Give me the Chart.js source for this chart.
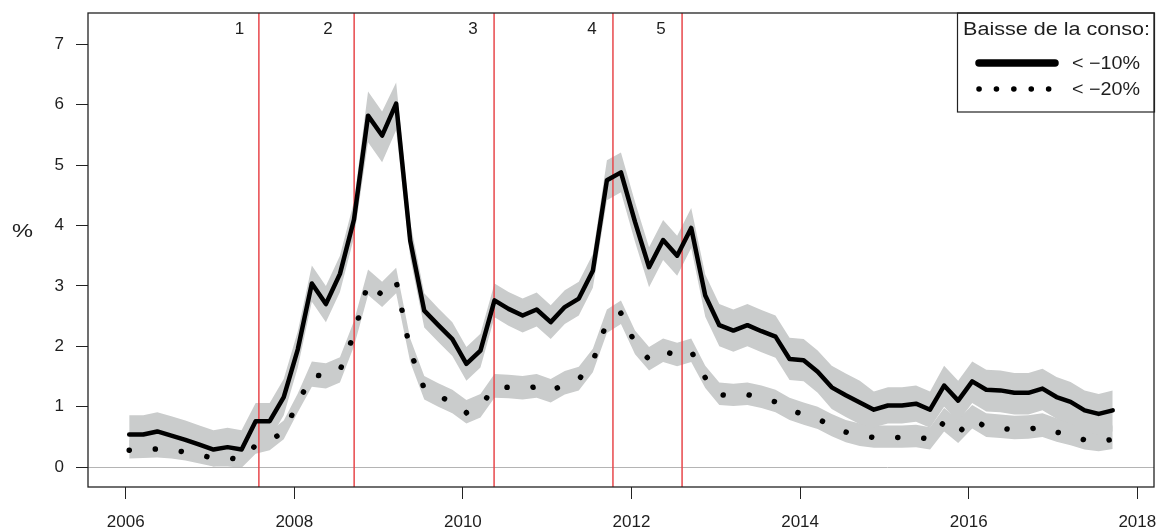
<!DOCTYPE html>
<html><head><meta charset="utf-8">
<script src="https://cdn.jsdelivr.net/npm/chart.js@4.4.0/dist/chart.umd.min.js"></script>
<style>html,body{margin:0;padding:0;background:#fff}#wrap{width:1166px;height:531px}</style>
</head><body><div id="wrap"><canvas id="c" width="1166" height="531"></canvas></div>
<script>
// ---- data ----
const dates = [
'2006-01','2006-03','2006-05','2006-07','2006-09','2006-11',
'2007-01','2007-03','2007-05','2007-07','2007-09','2007-11',
'2008-01','2008-03','2008-05','2008-07','2008-09','2008-11',
'2009-01','2009-03','2009-05','2009-07','2009-09','2009-11',
'2010-01','2010-03','2010-05','2010-07','2010-09','2010-11',
'2011-01','2011-03','2011-05','2011-07','2011-09','2011-11',
'2012-01','2012-03','2012-05','2012-07','2012-09','2012-11',
'2013-01','2013-03','2013-05','2013-07','2013-09','2013-11',
'2014-01','2014-03','2014-05','2014-07','2014-09','2014-11',
'2015-01','2015-03','2015-05','2015-07','2015-09','2015-11',
'2016-01','2016-03','2016-05','2016-07','2016-09','2016-11',
'2017-01','2017-03','2017-05','2017-07','2017-09'];
const conso10 = [0.54,0.54,0.59,0.52,0.45,0.37,0.29,0.33,0.29,0.76,0.76,1.16,1.95,3.04,2.70,3.20,4.10,5.82,5.49,6.02,
3.75,2.59,2.35,2.12,1.71,1.93,2.76,2.62,2.51,2.61,2.40,2.65,2.79,3.25,4.75,4.88,4.06,3.31,3.76,3.50,
3.96,2.84,2.35,2.26,2.35,2.25,2.16,1.79,1.77,1.58,1.32,1.19,1.07,0.95,1.02,1.02,1.05,0.95,1.35,1.10,
1.42,1.28,1.27,1.23,1.23,1.30,1.16,1.08,0.94,0.88,0.94];
const conso10Hi = [0.86,0.86,0.91,0.84,0.77,0.69,0.61,0.65,0.61,1.06,1.06,1.46,2.25,3.34,3.00,3.50,4.40,6.22,5.89,6.37,
4.05,2.88,2.63,2.40,1.99,2.21,3.04,2.90,2.79,2.89,2.68,2.93,3.07,3.53,5.08,5.21,4.39,3.64,4.09,3.83,
4.29,3.19,2.70,2.61,2.70,2.60,2.51,2.14,2.12,1.93,1.68,1.55,1.43,1.25,1.32,1.32,1.35,1.25,1.68,1.43,
1.75,1.61,1.60,1.56,1.56,1.63,1.49,1.41,1.27,1.21,1.27];
const conso10Lo = [0.26,0.26,0.31,0.24,0.17,0.09,0.01,0.05,0.01,0.46,0.46,0.86,1.65,2.74,2.40,2.90,3.80,5.38,5.05,5.58,
3.47,2.31,2.07,1.84,1.43,1.65,2.48,2.34,2.23,2.33,2.12,2.37,2.51,2.97,4.42,4.55,3.73,2.98,3.43,3.17,
3.63,2.49,2.00,1.91,2.00,1.90,1.81,1.44,1.42,1.23,0.96,0.83,0.71,0.66,0.72,0.72,0.75,0.65,1.00,0.75,
1.06,0.92,0.91,0.87,0.87,0.94,0.80,0.72,0.59,0.53,0.59];
const conso20 = [0.28,0.29,0.30,0.28,0.25,0.20,0.15,0.15,0.13,0.36,0.42,0.60,1.05,1.53,1.50,1.60,2.20,3.05,2.85,3.08,
1.92,1.30,1.18,1.07,0.90,1.00,1.33,1.32,1.30,1.33,1.25,1.38,1.45,1.75,2.40,2.55,2.05,1.78,1.92,1.85,
1.92,1.48,1.20,1.18,1.20,1.15,1.08,0.95,0.87,0.80,0.68,0.58,0.52,0.49,0.49,0.49,0.50,0.46,0.75,0.56,
0.80,0.66,0.64,0.62,0.63,0.66,0.58,0.52,0.45,0.42,0.46];
const conso20Hi = [0.45,0.46,0.47,0.45,0.42,0.37,0.32,0.32,0.30,0.53,0.59,0.77,1.22,1.75,1.72,1.82,2.42,3.27,3.07,3.30,
2.13,1.51,1.39,1.28,1.11,1.21,1.54,1.53,1.51,1.54,1.46,1.59,1.66,1.96,2.61,2.76,2.26,1.99,2.13,2.06,
2.13,1.68,1.40,1.38,1.40,1.35,1.28,1.15,1.07,1.00,0.88,0.78,0.72,0.69,0.69,0.69,0.70,0.66,0.98,0.79,
1.03,0.89,0.87,0.85,0.86,0.89,0.81,0.75,0.68,0.65,0.69];
const conso20Lo = [0.14,0.15,0.16,0.14,0.11,0.06,0.01,0.01,-0.01,0.22,0.28,0.46,0.91,1.33,1.30,1.40,2.00,2.85,2.65,2.88,
1.74,1.12,1.00,0.89,0.72,0.82,1.15,1.14,1.12,1.15,1.07,1.20,1.27,1.57,2.22,2.37,1.87,1.60,1.74,1.67,
1.74,1.31,1.03,1.01,1.03,0.98,0.91,0.78,0.70,0.63,0.51,0.41,0.35,0.32,0.32,0.32,0.33,0.29,0.59,0.40,
0.64,0.50,0.48,0.46,0.47,0.50,0.42,0.36,0.29,0.26,0.30];
const xTicks = [2006,2008,2010,2012,2014,2016,2018];
const yTicks = [0,1,2,3,4,5,6,7];
const breakDates = [2007.58,2008.71,2010.37,2011.78,2012.60];
const breakLabels = ['1','2','3','4','5'];
const breakLabelDates = [2007.35,2008.40,2010.12,2011.53,2012.35];
const yTitle = '%';
const legendTitle = 'Baisse de la conso:';
const legendLabels = ['< \u221210%','< \u221220%'];

// ---- helpers ----
const xs = dates.map(d => { const [y,m] = d.split('-').map(Number); return y + (m - 0.5) / 12; });
const pts = arr => arr.map((v,i) => ({x: xs[i], y: v}));
const FONT = '"Liberation Sans", Arial, sans-serif';
const TXT = '#1e1e1e';
const BAND = 'rgb(202,204,204)';

function wideText(ctx, text, x, y, width) {
  const w = ctx.measureText(text).width;
  ctx.save(); ctx.translate(x, y); ctx.scale(width / w, 1);
  ctx.textAlign = 'left'; ctx.fillText(text, 0, 0); ctx.restore();
}

const deco = {
  id: 'deco',
  afterDatasetDraw(chart, args) {
    if (args.index !== 2) return;
    const {ctx, chartArea: a, scales: {x, y}} = chart;
    ctx.save();
    ctx.strokeStyle = '#b4b4b4'; ctx.lineWidth = 1;
    const y0 = Math.round(y.getPixelForValue(0)) + 0.5;
    ctx.beginPath(); ctx.moveTo(a.left, y0); ctx.lineTo(a.right, y0); ctx.stroke();
    ctx.strokeStyle = '#e8474b'; ctx.lineWidth = 1.5;
    breakDates.forEach(d => {
      const px = x.getPixelForValue(d);
      ctx.beginPath(); ctx.moveTo(px, a.top); ctx.lineTo(px, a.bottom); ctx.stroke();
    });
    ctx.restore();
  },
  afterDraw(chart) {
    const {ctx, chartArea: a, scales: {x, y}} = chart;
    ctx.save();
    ctx.fillStyle = TXT;
    ctx.font = '17px ' + FONT;
    ctx.textAlign = 'center'; ctx.textBaseline = 'middle';
    breakLabels.forEach((t, i) => ctx.fillText(t, x.getPixelForValue(breakLabelDates[i]), 29));
    ctx.font = '19px ' + FONT;
    wideText(ctx, yTitle, 12, y.getPixelForValue(3.9), 21);
    // legend
    const L = 957, T = a.top, R = a.right, B = 112;
    ctx.fillStyle = '#fff'; ctx.fillRect(L, T, R - L, B - T);
    ctx.strokeStyle = '#222'; ctx.lineWidth = 1.2;
    ctx.strokeRect(L + 0.5, T, R - L, B - T);
    ctx.fillStyle = TXT;
    ctx.font = '18px ' + FONT;
    wideText(ctx, legendTitle, 963, 30, 187);
    ctx.strokeStyle = '#000'; ctx.lineCap = 'round';
    ctx.lineWidth = 7.5;
    ctx.beginPath(); ctx.moveTo(979, 63); ctx.lineTo(1055, 63); ctx.stroke();
    ctx.lineWidth = 5.5; ctx.setLineDash([0.1, 17.3]);
    ctx.beginPath(); ctx.moveTo(979, 89); ctx.lineTo(1052, 89); ctx.stroke();
    ctx.setLineDash([]);
    wideText(ctx, legendLabels[0], 1072, 64, 68);
    wideText(ctx, legendLabels[1], 1072, 90, 68);
    // box
    ctx.strokeStyle = '#222'; ctx.lineWidth = 1.3;
    ctx.strokeRect(a.left, a.top, a.right - a.left, a.bottom - a.top);
    ctx.restore();
  }
};

const tickFont = {family: FONT, size: 17};
new Chart(document.getElementById('c'), {
  type: 'line',
  data: {
    datasets: [
      {data: pts(conso10), borderColor: '#000', borderWidth: 4.5, pointRadius: 0, tension: 0,
       borderJoinStyle: 'round', borderCapStyle: 'round', fill: false},
      {data: pts(conso20), borderColor: '#000', borderWidth: 5.5, pointRadius: 0, tension: 0,
       borderDash: [0.1, 26], borderCapStyle: 'round', fill: false},
      {data: pts(conso10Hi), borderColor: 'rgba(0,0,0,0)', borderWidth: 0, pointRadius: 0, tension: 0,
       backgroundColor: BAND, fill: {target: 3}},
      {data: pts(conso10Lo), borderColor: 'rgba(0,0,0,0)', borderWidth: 0, pointRadius: 0, tension: 0, fill: false},
      {data: pts(conso20Hi), borderColor: 'rgba(0,0,0,0)', borderWidth: 0, pointRadius: 0, tension: 0,
       backgroundColor: BAND, fill: {target: 5}},
      {data: pts(conso20Lo), borderColor: 'rgba(0,0,0,0)', borderWidth: 0, pointRadius: 0, tension: 0, fill: false}
    ]
  },
  options: {
    responsive: false, animation: false, devicePixelRatio: 1,
    layout: {padding: {top: 13, right: 12, left: 0, bottom: 0}},
    plugins: {legend: {display: false}, tooltip: {enabled: false}},
    scales: {
      x: {type: 'linear', min: 2005.553, max: 2018.198,
          afterBuildTicks: s => { s.ticks = xTicks.map(v => ({value: v})); },
          afterFit: s => { s.height = 44; s.paddingLeft = 0; s.paddingRight = 0; },
          ticks: {font: tickFont, color: TXT, padding: 13, maxRotation: 0, autoSkip: false, callback: v => String(v)},
          grid: {drawOnChartArea: false, drawTicks: true, tickLength: 12, color: '#222', lineWidth: 1},
          border: {display: false}},
      y: {type: 'linear', min: -0.33, max: 7.52,
          afterBuildTicks: s => { s.ticks = yTicks.map(v => ({value: v})); },
          afterFit: s => { s.width = 88; s.paddingTop = 0; s.paddingBottom = 0; },
          ticks: {font: tickFont, color: TXT, padding: 12, callback: v => String(v)},
          grid: {drawOnChartArea: false, drawTicks: true, tickLength: 12, color: '#222', lineWidth: 1},
          border: {display: false}}
    }
  },
  plugins: [deco]
});
</script></body></html>
